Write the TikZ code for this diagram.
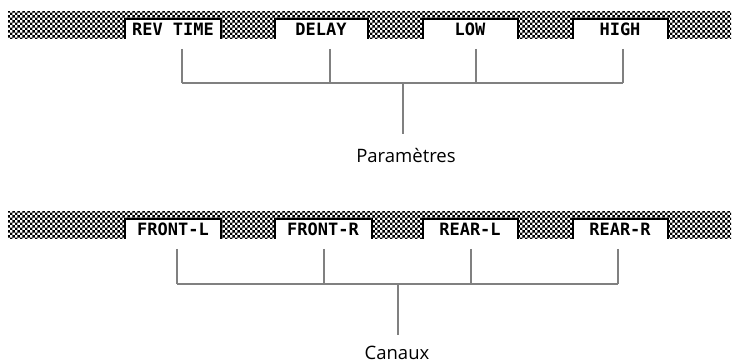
\documentclass[tikz,border=0pt]{standalone}
\usepackage{fontspec}
\setmainfont{Open Sans}
\newfontfamily\lcdfont{DejaVu Sans Mono}
\usetikzlibrary{patterns}

\pgfdeclarepatternformonly{damier}{\pgfpointorigin}{\pgfqpoint{5.4pt}{5.4pt}}{\pgfqpoint{5.4pt}{5.4pt}}{%
  \pgfpathrectangle{\pgfpointorigin}{\pgfqpoint{2.7pt}{2.7pt}}%
  \pgfpathrectangle{\pgfqpoint{2.7pt}{2.7pt}}{\pgfqpoint{2.7pt}{2.7pt}}%
  \pgfusepath{fill}}

\tikzset{
  bar/.style={pattern=damier, pattern color=black},
  keybox/.style={fill=white, draw=black, line width=2pt},
  keylabel/.style={font=\lcdfont\bfseries\fontsize{17}{17}\selectfont, inner sep=0pt},
  tie/.style={draw=black!50, line width=2pt},
  caption/.style={font=\fontsize{18.5}{18.5}\selectfont, inner sep=0pt}
}

\begin{document}
\begin{tikzpicture}[x=1pt, y=-1pt]
    \useasboundingbox (0,0) rectangle (736,363);
    % Barre du haut
    \fill[bar] (8,12) rectangle (731,39);
    \draw[keybox] (125,39) -- (125,19) -- (221,19) -- (221,39);
    \draw[keybox] (275,39) -- (275,19) -- (368,19) -- (368,39);
    \draw[keybox] (423,39) -- (423,19) -- (518,19) -- (518,39);
    \draw[keybox] (573,39) -- (573,19) -- (668,19) -- (668,39);
    \node[keylabel] (revtime) at (173,29) {REV TIME};
    \node[keylabel] (delay) at (321,29) {DELAY};
    \node[keylabel] (low) at (470,29) {LOW};
    \node[keylabel] (high) at (620,29) {HIGH};
    % Accolade des paramètres
    \coordinate (p1) at (182,49);
    \coordinate (p2) at (330,49);
    \coordinate (p3) at (476,49);
    \coordinate (p4) at (623,49);
    \coordinate (pl) at (182,83);
    \coordinate (pr) at (623,83);
    \coordinate (pm) at (403,83);
    \coordinate (ps) at (403,134);
    \draw[tie] (pl) -- (pr);
    \draw[tie] (p1) -- (pl);
    \draw[tie] (p2) -- (p2 |- pl);
    \draw[tie] (p3) -- (p3 |- pl);
    \draw[tie] (p4) -- (pr);
    \draw[tie] (pm) -- (ps);
    \node[caption] (params) at (406,156) {Paramètres};
    % Barre du bas
    \fill[bar] (8,212) rectangle (731,239);
    \draw[keybox] (125,239) -- (125,219) -- (221,219) -- (221,239);
    \draw[keybox] (275,239) -- (275,219) -- (372,219) -- (372,239);
    \draw[keybox] (423,239) -- (423,219) -- (518,219) -- (518,239);
    \draw[keybox] (573,239) -- (573,219) -- (668,219) -- (668,239);
    \node[keylabel] (frontl) at (173,229) {FRONT-L};
    \node[keylabel] (frontr) at (323,229) {FRONT-R};
    \node[keylabel] (rearl) at (470,229) {REAR-L};
    \node[keylabel] (rearr) at (620,229) {REAR-R};
    % Accolade des canaux
    \coordinate (c1) at (177,249);
    \coordinate (c2) at (324,249);
    \coordinate (c3) at (471,249);
    \coordinate (c4) at (618,249);
    \coordinate (cl) at (177,284);
    \coordinate (cr) at (618,284);
    \coordinate (cm) at (398,284);
    \coordinate (cs) at (398,335);
    \draw[tie] (cl) -- (cr);
    \draw[tie] (c1) -- (cl);
    \draw[tie] (c2) -- (c2 |- cl);
    \draw[tie] (c3) -- (c3 |- cl);
    \draw[tie] (c4) -- (cr);
    \draw[tie] (cm) -- (cs);
    \node[caption] (canaux) at (397,353) {Canaux};
\end{tikzpicture}
\end{document}
